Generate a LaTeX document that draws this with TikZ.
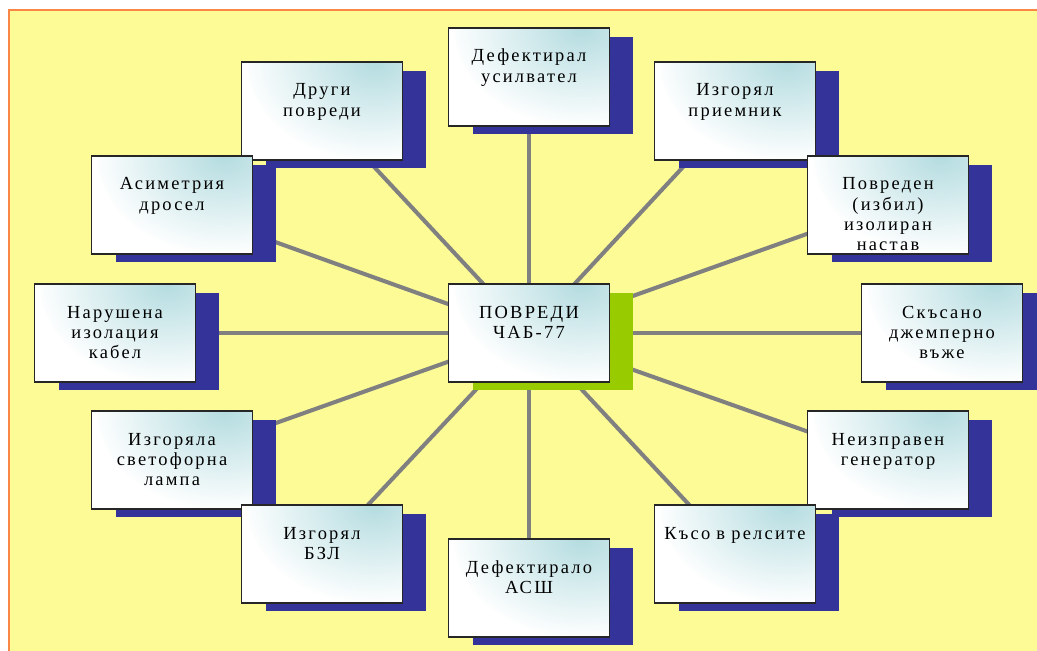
\documentclass[tikz,border=0pt]{standalone}
\usepackage{fontspec}
\setmainfont{Liberation Serif}[LetterSpace=12, WordSpace=1.6]
\usetikzlibrary{shadows,backgrounds}

\definecolor{bgyellow}{RGB}{252,251,150}
\definecolor{frameorange}{RGB}{250,135,70}
\definecolor{shadowblue}{RGB}{51,51,153}
\definecolor{shadowgreen}{RGB}{153,204,0}
\definecolor{boxteal}{RGB}{180,220,224}
\definecolor{linkgray}{RGB}{128,128,128}

\tikzset{
  fault/.style={draw=black!85, line width=0.6pt, fill=white,
    text width=3.14cm, inner xsep=0.04cm, inner ysep=0pt,
    text height=0.68cm, text depth=1.28cm, align=center,
    font=\fontsize{10.5}{11.5}\selectfont,
    path picture={\shade[inner color=boxteal, outer color=white]
      ([xshift=-0.5cm]path picture bounding box.north east)
      ellipse (2.6cm and 2cm);},
    drop shadow={shadow xshift=0.48cm, shadow yshift=-0.17cm,
      opacity=1, fill=#1, draw=none}},
  fault/.default=shadowblue,
  link/.style={draw=linkgray, line width=2.3pt}
}

\begin{document}
\begin{tikzpicture}[x=0.02cm, y=-0.02cm]
  \useasboundingbox (0,0) rectangle (1037,651);

  % upper half
  \node[fault] (other)  at (322,111) {Други\\повреди};
  \node[fault] (amp)    at (529,77)  {Дефектирал\\усилвател};
  \node[fault] (recv)   at (735,111) {Изгорял\\приемник};
  \node[fault] (choke)  at (172,205) {Асиметрия\\дросел};
  \node[fault] (joint)  at (888,205) {Повреден\\(избил)\\изолиран\\настав};

  % middle row
  \node[fault] (cable)  at (115,333) {Нарушена\\изолация\\кабел};
  \node[fault=shadowgreen] (centre) at (529,333) {ПОВРЕДИ\\ЧАБ-77};
  \node[fault] (jumper) at (942,333) {Скъсано\\джемперно\\въже};

  % lower half
  \node[fault] (lamp)   at (172,460) {Изгоряла\\светофорна\\лампа};
  \node[fault] (gen)    at (888,460) {Неизправен\\генератор};
  \node[fault] (bzl)    at (322,554) {Изгорял\\БЗЛ};
  \node[fault] (short)  at (735,554) {Късо в релсите};
  \node[fault] (ash)    at (529,588) {Дефектирало\\АСШ};

  \begin{pgfonlayer}{background}
    \fill[bgyellow] (9,10) rectangle (1037,651);
    \draw[frameorange, line width=0.04cm] (9,651) -- (9,10) -- (1037,10);
    \foreach \n in {other,amp,recv,choke,joint,cable,jumper,lamp,gen,bzl,short,ash}
      \draw[link] (centre.center) -- (\n.center);
  \end{pgfonlayer}
\end{tikzpicture}
\end{document}
